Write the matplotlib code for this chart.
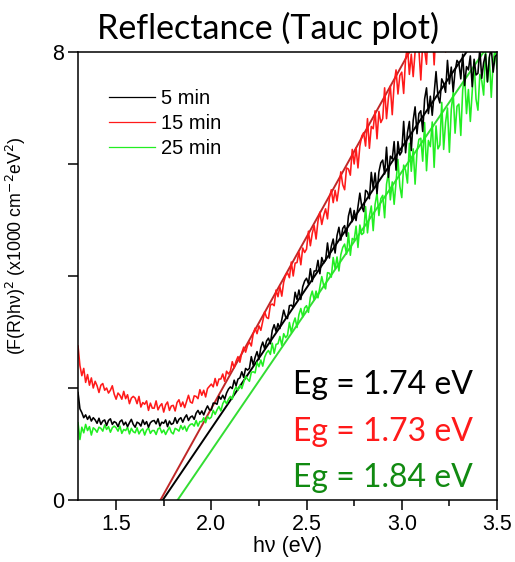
import numpy as np
import matplotlib.pyplot as plt
from matplotlib.ticker import MultipleLocator, FixedLocator, FuncFormatter

# photon energy grid (eV), 0.01 eV step
hv = np.round(np.arange(1.30, 3.5001, 0.01), 2)

# (F(R)hv)^2 in units of 1000 cm^-2 eV^2 (10 values per 0.1 eV)
y_5min = [
    1.92, 1.63, 1.56, 1.47, 1.52, 1.44, 1.50, 1.41, 1.47, 1.43,
    1.37, 1.46, 1.35, 1.41, 1.43, 1.33, 1.42, 1.45, 1.35, 1.40,
    1.38, 1.31, 1.40, 1.43, 1.34, 1.39, 1.31, 1.38, 1.44, 1.35,
    1.30, 1.39, 1.37, 1.32, 1.43, 1.35, 1.40, 1.30, 1.38, 1.41,
    1.42, 1.36, 1.45, 1.32, 1.39, 1.37, 1.43, 1.31, 1.41, 1.35,
    1.37, 1.47, 1.37, 1.44, 1.47, 1.39, 1.47, 1.52, 1.42, 1.48,
    1.50, 1.44, 1.55, 1.60, 1.53, 1.59, 1.52, 1.61, 1.68, 1.61,
    1.61, 1.73, 1.73, 1.71, 1.85, 1.80, 1.87, 1.80, 1.91, 1.98,
    2.02, 1.99, 2.14, 2.04, 2.16, 2.18, 2.29, 2.19, 2.35, 2.32,
    2.35, 2.56, 2.41, 2.55, 2.65, 2.51, 2.72, 2.82, 2.70, 2.84,
    2.89, 2.79, 3.03, 3.13, 3.01, 3.15, 3.06, 3.22, 3.39, 3.27,
    3.24, 3.47, 3.48, 3.44, 3.71, 3.58, 3.75, 3.58, 3.81, 3.91,
    3.96, 3.86, 4.13, 3.90, 4.09, 4.09, 4.28, 4.04, 4.33, 4.23,
    4.28, 4.59, 4.32, 4.53, 4.66, 4.41, 4.72, 4.87, 4.64, 4.85,
    4.90, 4.71, 5.07, 5.21, 4.97, 5.17, 4.99, 5.23, 5.48, 5.24,
    5.15, 5.53, 5.50, 5.38, 5.85, 5.56, 5.84, 5.47, 5.86, 6.02,
    6.07, 5.82, 6.30, 5.76, 6.14, 6.09, 6.40, 5.89, 6.40, 6.16,
    6.22, 6.76, 6.20, 6.56, 6.76, 6.24, 6.78, 7.02, 6.54, 6.90,
    6.95, 6.58, 7.16, 7.36, 6.90, 7.21, 6.87, 7.26, 7.65, 7.21,
    7.09, 7.52, 7.44, 7.28, 7.85, 7.43, 7.73, 7.29, 7.66, 7.85,
    7.80, 7.52, 7.96, 7.40, 7.74, 7.68, 7.93, 7.38, 7.87, 7.59,
    7.62, 8.06, 7.53, 7.81, 7.96, 7.47, 7.91, 8.08, 7.64, 7.92,
    7.95,
]
y_15min = [
    2.75, 2.40, 2.22, 2.35, 2.10, 2.24, 2.05, 2.18, 2.00, 2.12,
    2.04, 1.92, 2.05, 2.08, 1.96, 2.00, 1.91, 1.96, 2.04, 1.89,
    1.80, 1.91, 1.87, 1.80, 1.94, 1.81, 1.88, 1.72, 1.82, 1.85,
    1.82, 1.72, 1.85, 1.66, 1.74, 1.71, 1.77, 1.60, 1.73, 1.64,
    1.64, 1.77, 1.61, 1.68, 1.72, 1.57, 1.70, 1.75, 1.60, 1.68,
    1.69, 1.59, 1.74, 1.79, 1.67, 1.75, 1.65, 1.76, 1.87, 1.75,
    1.73, 1.86, 1.85, 1.81, 1.97, 1.87, 1.96, 1.84, 1.99, 2.03,
    2.07, 2.02, 2.17, 2.04, 2.16, 2.16, 2.25, 2.12, 2.30, 2.25,
    2.30, 2.47, 2.36, 2.48, 2.56, 2.46, 2.63, 2.73, 2.64, 2.76,
    2.82, 2.75, 2.97, 3.07, 2.97, 3.11, 3.03, 3.19, 3.36, 3.26,
    3.24, 3.48, 3.50, 3.47, 3.75, 3.63, 3.81, 3.64, 3.89, 4.01,
    4.06, 3.97, 4.25, 4.00, 4.23, 4.24, 4.43, 4.20, 4.50, 4.42,
    4.48, 4.80, 4.54, 4.76, 4.90, 4.66, 4.98, 5.14, 4.92, 5.08,
    5.20, 5.02, 5.39, 5.54, 5.31, 5.53, 5.34, 5.58, 5.86, 5.63,
    5.54, 5.93, 5.91, 5.80, 6.26, 6.00, 6.29, 5.93, 6.32, 6.50,
    6.56, 6.32, 6.81, 6.28, 6.67, 6.63, 6.95, 6.45, 6.94, 6.74,
    6.81, 7.36, 6.81, 7.18, 7.39, 6.88, 7.43, 7.68, 7.25, 7.58,
    7.64, 7.26, 7.88, 8.10, 7.60, 7.96, 7.56, 8.00, 8.44, 8.04,
    7.50, 8.15, 8.04, 7.78, 8.58, 8.03, 8.47, 7.77, 8.41, 8.65,
    8.60, 8.18, 8.87, 8.00, 8.53, 8.42, 8.90, 8.03, 8.76, 8.35,
    8.40, 9.09, 8.34, 8.79, 9.06, 8.27, 9.05, 9.38, 8.97, 9.10,
    9.20, 9.60, 9.10, 9.40, 9.70, 9.20, 9.50, 9.80, 9.30, 9.60,
    9.70,
]
y_25min = [
    1.38, 1.08, 1.30, 1.20, 1.35, 1.24, 1.31, 1.16, 1.29, 1.26,
    1.21, 1.30, 1.28, 1.23, 1.34, 1.26, 1.31, 1.21, 1.29, 1.32,
    1.29, 1.23, 1.32, 1.19, 1.26, 1.24, 1.30, 1.18, 1.28, 1.22,
    1.20, 1.29, 1.18, 1.24, 1.27, 1.16, 1.25, 1.29, 1.19, 1.24,
    1.24, 1.17, 1.27, 1.29, 1.20, 1.25, 1.17, 1.24, 1.30, 1.21,
    1.18, 1.28, 1.26, 1.23, 1.33, 1.26, 1.32, 1.23, 1.31, 1.35,
    1.36, 1.32, 1.42, 1.32, 1.40, 1.40, 1.47, 1.38, 1.49, 1.45,
    1.48, 1.60, 1.53, 1.61, 1.67, 1.59, 1.72, 1.78, 1.72, 1.80,
    1.85, 1.80, 1.95, 2.02, 1.96, 2.05, 1.99, 2.10, 2.21, 2.16,
    2.12, 2.28, 2.29, 2.27, 2.46, 2.38, 2.50, 2.39, 2.55, 2.63,
    2.67, 2.60, 2.80, 2.62, 2.78, 2.79, 2.92, 2.76, 2.97, 2.90,
    2.94, 3.17, 2.99, 3.15, 3.25, 3.08, 3.31, 3.42, 3.27, 3.43,
    3.47, 3.35, 3.62, 3.73, 3.57, 3.73, 3.61, 3.80, 3.99, 3.83,
    3.77, 4.06, 4.05, 3.98, 4.33, 4.13, 4.34, 4.09, 4.38, 4.51,
    4.57, 4.39, 4.77, 4.37, 4.67, 4.64, 4.89, 4.51, 4.91, 4.74,
    4.77, 5.24, 4.77, 5.07, 5.25, 4.81, 5.28, 5.48, 5.08, 5.38,
    5.44, 5.04, 5.64, 5.84, 5.36, 5.68, 5.28, 5.68, 6.08, 5.60,
    5.40, 5.98, 5.89, 5.66, 6.37, 5.87, 6.27, 5.64, 6.22, 6.44,
    6.46, 6.05, 6.74, 5.88, 6.42, 6.31, 6.75, 5.94, 6.68, 6.27,
    6.34, 7.10, 6.26, 6.74, 7.00, 6.21, 6.97, 7.28, 6.55, 7.03,
    7.07, 6.51, 7.32, 7.58, 6.90, 7.33, 6.76, 7.30, 7.83, 7.16,
    6.96, 7.60, 7.49, 7.23, 8.02, 7.46, 7.90, 7.19, 7.83, 8.07,
    7.70,
]

# linear fits (Tauc extrapolation), end points
fit_5min_x = [1.745, 3.34]
fit_5min_y = [0, 8]
fit_15min_x = [1.733, 3.04]
fit_15min_y = [0, 8]
fit_25min_x = [1.823, 3.43]
fit_25min_y = [0, 8]

labels = ['5 min', '15 min', '25 min']
eg_texts = ['Eg = 1.74 eV', 'Eg = 1.73 eV', 'Eg = 1.84 eV']

plt.rcParams['font.family'] = ['Liberation Sans', 'DejaVu Sans']

fig = plt.figure(figsize=(5.15, 5.62), dpi=100)
ax = fig.add_axes([0.1515, 0.1103, 0.8135, 0.7972])

ax.plot(fit_15min_x, fit_15min_y, color='#c02828', lw=1.4)
ax.plot(fit_5min_x, fit_5min_y, color='black', lw=1.4)
ax.plot(fit_25min_x, fit_25min_y, color='#33dd33', lw=1.4)

ax.plot(hv, y_25min, color='#22ee22', lw=1.15, label=labels[2])
ax.plot(hv, y_5min, color='black', lw=1.15, label=labels[0])
ax.plot(hv, y_15min, color='#ff1a1a', lw=1.15, label=labels[1])

ax.set_xlim(1.3, 3.5)
ax.set_ylim(0, 8)
ax.xaxis.set_major_locator(MultipleLocator(0.5))
ax.xaxis.set_minor_locator(FixedLocator([1.75, 2.25, 2.75, 3.25]))
ax.xaxis.set_major_formatter(FuncFormatter(lambda v, p: f'{v:.1f}'))
ax.yaxis.set_major_locator(MultipleLocator(2))
ax.yaxis.set_major_formatter(FuncFormatter(lambda v, p: f'{v:.0f}' if v in (0, 8) else ''))
ax.tick_params(direction='out', which='major', length=7, width=1.1, labelsize=15.5, pad=3)
ax.tick_params(direction='out', which='minor', length=4, width=1.1)
for s in ax.spines.values():
    s.set_linewidth(1.1)

ax.set_xlabel('h\u03bd (eV)', fontsize=15.5, labelpad=1)
ax.set_ylabel('(F(R)h\u03bd)$^2$ (x1000 cm$^{-2}$eV$^2$)', fontsize=12.8)
ax.yaxis.set_label_coords(-0.119, 0.567)

h, l = ax.get_legend_handles_labels()
order = [1, 2, 0]
leg = ax.legend([h[i] for i in order], [l[i] for i in order], loc='upper left',
                bbox_to_anchor=(0.05, 0.94), frameon=False, fontsize=14.5,
                handlelength=2.3, handletextpad=0.3, labelspacing=0.3, borderpad=0)
for line in leg.get_lines():
    line.set_linewidth(0.9)

for txt, col, yy in zip(eg_texts, ['black', '#ff1a1a', '#118a11'], [0.257, 0.151, 0.05]):
    ax.text(0.943, yy, txt, transform=ax.transAxes, ha='right', va='center',
            color=col, fontsize=23, family=['Lato', 'DejaVu Sans'])

fig.text(0.52, 0.95, 'Reflectance (Tauc plot)', ha='center', va='center',
         fontsize=24.5, family=['Lato', 'DejaVu Sans'])

fig.savefig('out.png', dpi=100)
